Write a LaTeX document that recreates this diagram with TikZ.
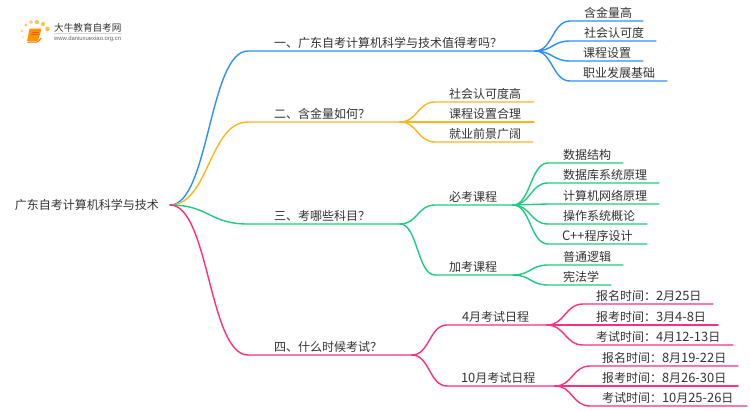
\documentclass[tikz,border=0pt]{standalone}
\usepackage{fontspec}
\usetikzlibrary{calc}
\setmainfont{Noto Sans CJK SC}
\newfontfamily\latinf{Liberation Sans}
\definecolor{cblue}{HTML}{2E90FF}
\definecolor{corange}{HTML}{FFB41E}
\definecolor{cgreen}{HTML}{20CC80}
\definecolor{cpink}{HTML}{FF2E80}
\definecolor{ctext}{HTML}{333333}
\newcommand{\dg}[1]{{\fontsize{12.9}{12}\selectfont #1}}
% \lab{name}{x0}{x1}{y}{text x}{text}: a node whose bottom edge is the underline
\newcommand{\lab}[6]{%
  \pgfmathsetmacro{\labw}{#3-#2}\pgfmathsetmacro{\labo}{#5-#2}%
  \node[lab] (#1) at (#2,#4) {\makebox[\labw pt][l]{\hspace{\labo pt}\rule[-3.2pt]{0pt}{14pt}#6}};}
\tikzset{
  lab/.style={anchor=south west,inner sep=0pt,outer sep=0pt,text=ctext,font=\fontsize{12}{12}\selectfont},
  conn/.style={line width=1.4pt,line cap=round,line join=round},
}
% S-curve from a start point to a child, then along the child's underline
\newcommand{\scurve}[3]{%
  \coordinate (mm) at ($(#2)!.5!(#3.south west)$);
  \draw[conn,#1] (#2) .. controls (mm |- #2) and (mm |- #3.south west) .. (#3.south west) -- (#3.south east);}
\newcommand{\cn}[3]{\scurve{#1}{#2.south east}{#3}}
\begin{document}
\begin{tikzpicture}[x=1pt,y=-1pt]
\useasboundingbox (0,0) rectangle (750,410);
\fill[white] (0,0) rectangle (750,410);
% logo
\foreach \a/\b/\r/\o in {26/25/1.7/70,31/22/1.9/75,37/22/2.1/80,43/24/2.1/80,47.5/29/2.3/85,22/31/1.4/55,23/37/1.1/35,24/43/1/25}
  \fill[corange!\o] (\a,\b) circle (\r);
\fill[orange!85!yellow,rounded corners=1pt] (29.5,28.5) -- (41.5,28.5) -- (38,41) -- (27,41.5) -- cycle;
\draw[orange!90!red,line width=1pt,rounded corners=1pt] (41,38) -- (38,42) -- (27.5,42.3);
\draw[orange!70!red,line width=.6pt] (31.5,32) -- (39,32) (31,34.5) -- (38.5,34.5);
\node[anchor=west,inner sep=0pt,text=ctext,font=\fontsize{9.6}{10}\selectfont] (logot) at (54,27.5) {大牛教育自考网};
\draw[black!15,line width=.5pt] (54,33.5) -- (122,33.5);
\node[anchor=west,inner sep=0pt,text=black!60,font=\latinf\fontsize{5.9}{6}\selectfont] (logou) at (54,38.5) {www.daniuxuexiao.org.cn};
% root
\node[anchor=east,inner sep=0pt,text=ctext,font=\fontsize{12}{12}\selectfont] (root) at (170,205) {广东自考计算机科学与技术\rule{11pt}{0pt}};
% level 1
\lab{a}{248}{535}{51}{274}{一、广东自考计算机科学与技术值得考吗？}
\lab{b}{248}{400}{122}{274}{二、含金量如何？}
\lab{c}{248}{400}{224}{274}{三、考哪些科目？}
\lab{d}{248}{412}{355}{274}{四、什么时候考试？}
% a leaves
\lab{a1}{570}{643}{21}{584}{含金量高}
\lab{a2}{570}{656}{41}{584}{社会认可度}
\lab{a3}{570}{643}{61}{583}{课程设置}
\lab{a4}{570}{667}{81}{583}{职业发展基础}
% b leaves
\lab{b1}{435}{534}{102}{449}{社会认可度高}
\lab{b2}{435}{534}{122}{449}{课程设置合理}
\lab{b3}{435}{533}{142}{449}{就业前景广阔}
% c
\lab{c1}{435}{513}{205}{449}{必考课程}
\lab{c2}{435}{513}{275}{449}{加考课程}
\lab{c11}{548}{623}{163}{563}{数据结构}
\lab{c12}{548}{659}{183}{563}{数据库系统原理}
\lab{c13}{548}{659}{204}{563}{计算机网络原理}
\lab{c14}{548}{647}{224}{563}{操作系统概论}
\lab{c15}{548}{647}{244}{562}{\dg{C++}程序设计}
\lab{c21}{548}{623}{265}{563}{普通逻辑}
\lab{c22}{548}{611}{285}{563}{宪法学}
% d
\lab{d1}{447}{547}{325}{462}{\dg{4}月考试日程}
\lab{d2}{447}{555}{386}{461}{\dg{10}月考试日程}
\lab{d11}{583}{713}{304}{596}{报名时间：\dg{2}月\dg{25}日}
\lab{d12}{583}{718}{325}{596}{报考时间：\dg{3}月\dg{4-8}日}
\lab{d13}{583}{733}{345}{596}{考试时间：\dg{4}月\dg{12-13}日}
\lab{d21}{590}{738}{366}{602}{报名时间：\dg{8}月\dg{19-22}日}
\lab{d22}{590}{738}{386}{602}{报考时间：\dg{8}月\dg{26-30}日}
\lab{d23}{590}{747}{406}{602}{考试时间：\dg{10}月\dg{25-26}日}
% connectors
\scurve{cblue}{root.east}{a}
\scurve{corange}{root.east}{b}
\scurve{cgreen}{root.east}{c}
\scurve{cpink}{root.east}{d}
\foreach \k in {a1,a2,a3,a4} {\cn{cblue}{a}{\k}}
\foreach \k in {b1,b2,b3} {\cn{corange}{b}{\k}}
\foreach \k in {c1,c2} {\cn{cgreen}{c}{\k}}
\foreach \k in {c11,c12,c13,c14,c15} {\cn{cgreen}{c1}{\k}}
\foreach \k in {c21,c22} {\cn{cgreen}{c2}{\k}}
\foreach \k in {d1,d2} {\cn{cpink}{d}{\k}}
\foreach \k in {d11,d12,d13} {\cn{cpink}{d1}{\k}}
\foreach \k in {d21,d22,d23} {\cn{cpink}{d2}{\k}}
\end{tikzpicture}
\end{document}
